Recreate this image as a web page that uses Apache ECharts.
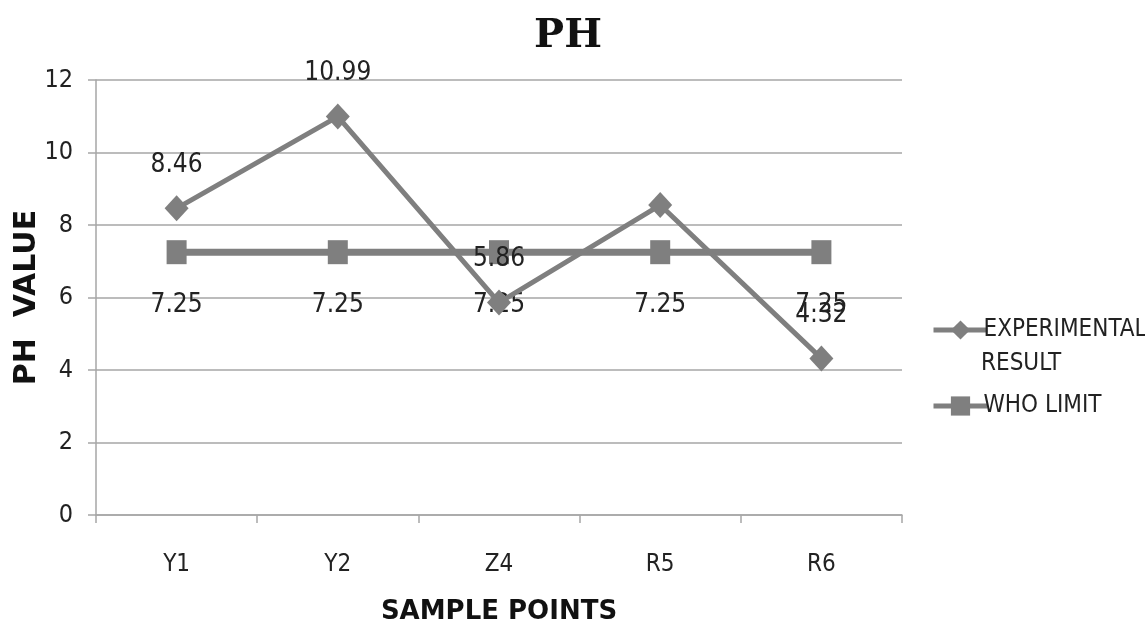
<!DOCTYPE html>
<html>
<head>
<meta charset="utf-8">
<script src="https://cdn.jsdelivr.net/npm/echarts@6/dist/echarts.min.js"></script>
<style>
  html, body { margin: 0; padding: 0; background: #fff; }
  #main { width: 1145px; height: 626px; }
</style>
</head>
<body>
<div id="main"></div>
<script>
let categories = ['Y1', 'Y2', 'Z4', 'R5', 'R6'];
let experimental = [8.46, 10.99, 5.86, 8.55, 4.32];
let whoLimit = [7.25, 7.25, 7.25, 7.25, 7.25];
// R5 point has no value label in the original
let expLabels = ['8.46', '10.99', '5.86', '', '4.32'];

let chartDom = document.getElementById('main');
let myChart = echarts.init(chartDom);
let narrow = 'Liberation Sans Narrow, DejaVu Sans Condensed, sans-serif';
let lineGrey = '#7f7f7f';
let gridGrey = '#a6a6a6';

let option = {
	backgroundColor: '#fff',
	animation: false,
	title: {
		text: 'PH',
		left: 563,
		top: 12,
		textAlign: 'center',
		textStyle: {
			fontFamily: 'DejaVu Serif, serif',
			fontWeight: 'bold',
			fontSize: 40,
			color: '#111'
		}
	},
	grid: {
		left: 96,
		top: 80,
		width: 806,
		height: 435,
		containLabel: false,
		outerBoundsMode: 'none'
	},
	legend: {
		orient: 'vertical',
		left: 926,
		top: 313,
		itemWidth: 54,
		itemHeight: 24,
		itemGap: 52,
		lineStyle: { width: 5 },
		formatter: function(name) {
			return name === 'EXPERIMENTAL RESULT' ? 'EXPERIMENTAL' : name;
		},
		textStyle: {
			fontFamily: narrow,
			fontSize: 24,
			color: '#222',
			padding: [0, 0, 0, -9]
		},
		data: ['EXPERIMENTAL RESULT', 'WHO LIMIT']
	},
	graphic: [{
		type: 'text',
		left: 981,
		top: 352,
		style: {
			text: 'RESULT',
			fontFamily: narrow,
			fontSize: 24,
			fill: '#222'
		}
	}],
	xAxis: {
		type: 'category',
		data: categories,
		boundaryGap: true,
		name: 'SAMPLE POINTS',
		nameLocation: 'middle',
		nameGap: 84,
		nameTextStyle: {
			fontFamily: 'DejaVu Sans, sans-serif',
			fontWeight: 'bold',
			fontSize: 26,
			color: '#111'
		},
		axisLine: { lineStyle: { color: gridGrey, width: 1.5 } },
		axisTick: { show: true, length: 8, lineStyle: { color: gridGrey, width: 1.5 } },
		axisLabel: {
			margin: 38,
			fontFamily: narrow,
			fontSize: 24,
			color: '#222'
		}
	},
	yAxis: {
		type: 'value',
		min: 0,
		max: 12,
		interval: 2,
		name: 'PH  VALUE',
		nameLocation: 'middle',
		nameGap: 54,
		nameRotate: 90,
		nameMoveOverlap: false,
		nameTextStyle: {
			fontFamily: 'DejaVu Sans, sans-serif',
			fontWeight: 'bold',
			fontSize: 30,
			color: '#111'
		},
		axisLine: { show: true, lineStyle: { color: gridGrey, width: 1.5 } },
		axisTick: { show: true, length: 8, lineStyle: { color: gridGrey, width: 1.5 } },
		axisLabel: {
			margin: 23,
			fontFamily: narrow,
			fontSize: 25,
			color: '#222'
		},
		splitLine: { lineStyle: { color: gridGrey, width: 1.5 } }
	},
	series: [{
			name: 'EXPERIMENTAL RESULT',
			type: 'line',
			data: experimental,
			symbol: 'diamond',
			symbolSize: [24, 26],
			itemStyle: { color: lineGrey },
			lineStyle: { color: lineGrey, width: 5 },
			label: {
				show: true,
				position: 'top',
				distance: 17,
				fontFamily: narrow,
				fontSize: 26,
				color: '#222',
				formatter: function(p) {
					return expLabels[p.dataIndex];
				}
			},
			z: 3
		},
		{
			name: 'WHO LIMIT',
			type: 'line',
			data: whoLimit,
			symbol: 'rect',
			symbolSize: [20, 24],
			itemStyle: { color: lineGrey },
			lineStyle: { color: lineGrey, width: 7 },
			label: {
				show: true,
				position: 'bottom',
				distance: 28,
				fontFamily: narrow,
				fontSize: 26,
				color: '#222',
				formatter: function(p) {
					return p.value.toFixed(2);
				}
			},
			z: 2
		}
	]
};

option && myChart.setOption(option);
</script>
</body>
</html>
